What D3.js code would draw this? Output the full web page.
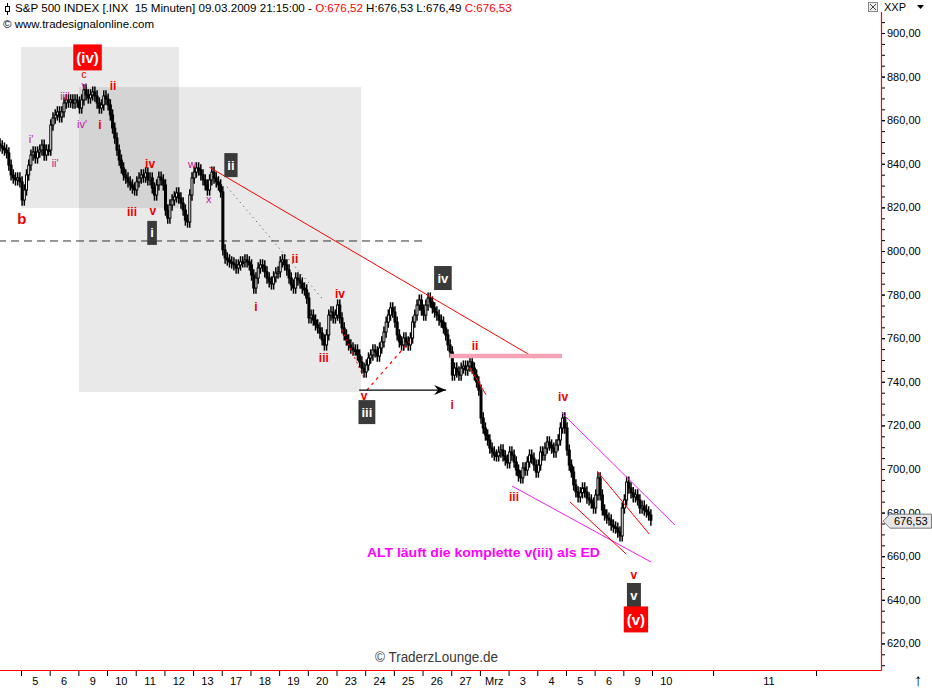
<!DOCTYPE html>
<html><head><meta charset="utf-8">
<script src="https://cdn.jsdelivr.net/npm/d3@7"></script>
<style>
html,body{margin:0;padding:0;background:#fff;}
svg{display:block;}
text{font-family:"Liberation Sans",Arial,sans-serif;}
</style></head><body>
<svg id="chart" width="932" height="688"></svg>
<script>
// ---------- DATA ----------
const dayLabels = ["5","6","9","10","11","12","13","17","18","19","20","23","24","25","26","27","Mrz","3","4","5","6","9"];
const futureLabels = [["10",22.5],["11",26.08]];
const futureTicks = [24.13, 27.72];
const yMajorTicks = [620,640,660,680,700,720,740,760,780,800,820,840,860,880,900];

// 30-minute closes per trading day (13 per day)
const feb04 = [850.9,850.0,849.1,848.2,847.2,846.3,845.0,839.4,834.9,833.5,832.6,833.5,831.7];
const feb05 = [823.4,828.0,834.9,839.4,844.0,845.4,842.7,845.4,846.3,848.6,844.0,846.3,846.3];
const feb06 = [857.8,861.0,862.4,863.8,861.5,863.8,867.9,869.3,868.3,869.3,867.9,869.3,868.3];
const feb09 = [865.6,869.3,873.9,871.6,870.2,871.6,872.9,871.1,867.9,865.6,867.0,871.1,869.7];
const feb10 = [867.0,862.4,856.4,851.8,846.3,841.7,838.1,834.9,833.5,831.7,830.3,828.9,828.0];
const feb11 = [831.7,833.5,834.9,833.9,835.8,832.6,833.5,828.9,825.7,830.3,833.9,832.6,830.3];
const feb12 = [818.8,815.1,821.1,823.4,824.8,826.6,824.3,822.0,818.8,814.2,813.3,825.7,833.5];
const feb13 = [836.2,838.1,837.2,834.9,832.6,830.3,828.0,832.6,836.2,833.5,831.7,830.3,827.1];
const feb17 = [800.5,796.8,795.9,795.0,794.5,793.6,792.2,793.6,795.0,795.0,795.9,795.0,793.6];
const feb18 = [789.0,783.0,787.6,792.2,793.6,793.1,790.4,787.6,785.8,784.9,788.1,789.9,790.4];
const feb19 = [795.0,795.9,793.6,791.3,787.6,784.4,783.0,787.6,786.7,785.3,783.0,782.1,778.4];
const feb20 = [769.3,770.6,768.3,766.1,764.7,762.4,759.2,756.9,761.5,770.6,772.0,769.3,770.6];
const feb23 = [775.2,769.3,764.7,761.5,759.2,756.9,755.5,754.6,754.6,752.3,749.1,746.3,744.5];
const feb24 = [747.7,750.9,752.3,754.6,753.7,751.8,755.5,758.3,762.8,767.4,770.6,773.9,772.0];
const feb25 = [767.4,761.5,758.3,756.9,760.1,758.3,756.9,760.1,767.4,770.6,775.2,777.5,772.9];
const feb26 = [770.6,775.2,778.4,776.6,773.9,772.0,770.6,768.3,767.4,764.7,761.5,756.9,753.7];
const feb27 = [743.1,746.3,744.5,743.1,746.3,747.2,745.4,747.2,749.1,746.3,743.1,739.9,736.2];
const mar02 = [723.4,718.8,715.6,713.3,709.6,707.8,706.4,706.0,707.8,708.7,706.0,704.1,702.8];
const mar03 = [707.8,706.4,703.2,699.5,696.8,695.9,700.5,699.5,703.2,706.4,705.0,701.8,698.6];
const mar04 = [701.8,707.8,706.4,709.6,712.4,711.0,709.6,707.8,711.0,713.3,718.8,723.4,718.8];
const mar05 = [708.7,701.8,698.6,692.7,689.5,687.2,689.1,691.3,689.5,686.7,685.8,684.4,682.1];
const mar06 = [688.1,695.9,688.1,681.2,678.9,677.5,676.6,674.3,673.4,672.9,671.1,669.3,682.1];
const mar09 = [685.8,694.0,691.3,689.1,687.2,688.1,685.8,682.1,683.0,681.2,680.3,678.9,676.53];
const days = [feb04,feb05,feb06,feb09,feb10,feb11,feb12,feb13,feb17,feb18,feb19,feb20,feb23,feb24,feb25,feb26,feb27,mar02,mar03,mar04,mar05,mar06,mar09];
const firstDayIndex = -1;
const lastPrice = 676.53;

// annotation geometry in (day, price) coordinates
const redTrend = [[6.56,838.5],[17.92,750.9]];
const pinkLevel = [[14.96,751.8],[18.86,751.8]];
const blackArrow = [[11.79,736.2],[14.82,736.2]];
const dashedLevel = [[-0.8,804.6],[14.09,804.6]];
const redDashUp = [[12.06,736.2],[13.56,758.7]];
const redDotDown = [[11.19,763.8],[11.99,740.8]];
const grayDotted = [[7.18,829.4],[10.49,778.4]];
const redShort = [[15.66,746.3],[16.21,734.1]];
const magUpper = [[18.86,725.7],[22.80,674.3]];
const magLower = [[17.12,692.2],[21.97,657.3]];
const redInner1 = [[20.08,699.1],[21.90,670.2]];
const redInner2 = [[19.14,684.9],[21.10,661.0]];
const boxA = [[0,893.6],[5.51,819.7]];
const boxB = [[2.02,875.2],[11.86,735.3]];

const waveLabels = [
 ["(iv)",2.32,888.8,"redbox"],["c",2.2,881.3,"red"],["v",2.2,875.9,"mag"],
 ["ii",3.21,875.7,"redb"],["iii'",1.53,871.1,"mag"],["iv'",2.13,858.3,"mag"],
 ["i",2.75,857.8,"redb"],["i'",0.35,851.4,"mag"],["ii'",1.19,840.4,"mag"],
 ["b",0.03,815.1,"redbig"],["iv",4.5,839.9,"redb"],["iii",3.87,817.9,"redb"],
 ["v",4.6,818.3,"redb"],["w",5.96,839.9,"mag"],["x",6.55,823.9,"mag"],
 ["ii",7.32,839.4,"dark"],["i",4.57,808.3,"dark"],["i",8.19,774.3,"redb"],
 ["ii",9.55,796.3,"redb"],["iii",10.56,750.9,"redb"],["iv",11.12,780.3,"redb"],
 ["v",11.96,733.5,"redb"],["iii",12.06,726.1,"dark"],["iv",14.71,787.6,"dark"],
 ["ii",15.83,756.4,"redb"],["i",15.03,729.4,"redb"],["iv",18.9,733.0,"redb"],
 ["iii",17.19,687.2,"redb"],["v",21.37,651.4,"redb"],["v",21.37,642.2,"dark"],
 ["(v)",21.44,631.0,"redbox"]
];
const noteText = "ALT läuft die komplette v(iii) als ED";
const notePos = [12.06, 661.5];

// ---------- CHART ----------
const svg = d3.select("#chart");
const plot = {left:0, right:881, top:13, bottom:670};
const x = d3.scaleLinear().domain([0,22]).range([21,652]);
const y = d3.scaleLinear().domain([620,900]).range([643.4,33]);
const P = d => [x(d[0]), y(d[1])];

svg.append("defs").append("clipPath").attr("id","clip")
  .append("rect").attr("x",plot.left).attr("y",plot.top)
  .attr("width",plot.right-plot.left).attr("height",plot.bottom-plot.top);
svg.select("defs").append("marker").attr("id","arr")
  .attr("viewBox","0 0 12 10").attr("refX",12).attr("refY",5)
  .attr("markerWidth",12).attr("markerHeight",10).attr("markerUnits","userSpaceOnUse")
  .attr("orient","auto")
  .append("path").attr("d","M0,0 L12,5 L0,10 L4,5 Z").attr("fill","#000");

const g = svg.append("g").attr("clip-path","url(#clip)");

// shaded boxes
[boxA, boxB].forEach(b => {
  const [x0,y0] = P(b[0]), [x1,y1] = P(b[1]);
  g.append("rect").attr("x",x0).attr("y",y0).attr("width",x1-x0).attr("height",y1-y0)
    .attr("fill","#000").attr("fill-opacity",0.088);
});

const line = d3.line().x(d=>x(d[0])).y(d=>y(d[1]));
g.append("path").attr("d",line(dashedLevel)).attr("stroke","#333").attr("stroke-width",1)
  .attr("stroke-dasharray","8,5").attr("fill","none");

// candles
const bars = [];
let prev = days[0][0];
days.forEach((arr, i) => {
  const d = firstDayIndex + i;
  arr.forEach((c, b) => {
    const o = prev;
    bars.push({t: d + (b+0.5)/arr.length, o, c, h: Math.max(o,c)+2.6, l: Math.min(o,c)-2.6});
    prev = c;
  });
});
const bw = 2.0;
const cg = g.append("g");
cg.selectAll("line.w").data(bars).join("line").attr("class","w")
  .attr("x1",d=>x(d.t)).attr("x2",d=>x(d.t))
  .attr("y1",d=>y(d.h)).attr("y2",d=>y(d.l))
  .attr("stroke","#000").attr("stroke-width",1.5);
cg.selectAll("rect.b").data(bars).join("rect").attr("class","b")
  .attr("x",d=>x(d.t)-bw/2).attr("width",bw)
  .attr("y",d=>y(Math.max(d.o,d.c)))
  .attr("height",d=>Math.max(1.5,Math.abs(y(d.o)-y(d.c))))
  .attr("fill",d=>d.c>d.o?"#fff":"#000")
  .attr("stroke","#000").attr("stroke-width",1);

// annotation lines
function seg(pts, color, w, dash){
  const p = g.append("path").attr("d",line(pts)).attr("stroke",color)
    .attr("stroke-width",w).attr("fill","none");
  if (dash) p.attr("stroke-dasharray",dash);
  return p;
}
seg(grayDotted,"#444",1,"1,4");
seg(redTrend,"#ff0000",1);
seg(pinkLevel,"#f3a3b3",4.5);
seg(redDashUp,"#ff0000",1.2,"3,4");
seg(redDotDown,"#ff0000",1,"2,3");
seg(redShort,"#ff0000",1);
seg(magUpper,"#ee22ee",1);
seg(magLower,"#ee22ee",1);
seg(redInner1,"#ff0000",1);
seg(redInner2,"#ff0000",1);
seg(blackArrow,"#000",1.3).attr("marker-end","url(#arr)");

// wave labels
const lg = svg.append("g");
waveLabels.forEach(([t,d,p,s]) => {
  const cx = x(d), cy = y(p);
  if (s === "dark" || s === "redbox") {
    const fs = s==="dark" ? 13 : 15;
    const tx = lg.append("text").attr("x",cx).attr("y",cy).attr("text-anchor","middle")
      .attr("dominant-baseline","central").attr("fill","#fff")
      .attr("font-weight","bold").attr("font-size",fs).text(t);
    const bb = tx.node().getBBox();
    const h = s==="dark" ? 24 : 26;
    lg.insert("rect","text").attr("x",cx-bb.width/2-3).attr("y",cy-h/2)
      .attr("width",bb.width+6).attr("height",h)
      .attr("fill", s==="dark" ? "#3a3a3a" : "#ff0000");
    tx.raise();
  } else {
    const st = {red:["#ee0000","normal",11],redb:["#ee0000","bold",12],
                redbig:["#ee0000","bold",15],mag:["#c0169a","normal",11]}[s];
    lg.append("text").attr("x",cx).attr("y",cy).attr("text-anchor","middle")
      .attr("dominant-baseline","central").attr("fill",st[0])
      .attr("font-weight",st[1]).attr("font-size",t==="v"&&s==="mag"?10:st[2]).text(t);
  }
});

// note
svg.append("text").attr("x",x(notePos[0])).attr("y",y(notePos[1]))
  .attr("dominant-baseline","central").attr("fill","#ff00ff")
  .attr("font-family","'DejaVu Sans',sans-serif").attr("font-weight","bold")
  .attr("font-size",12).attr("textLength",233).attr("lengthAdjust","spacingAndGlyphs")
  .text(noteText);

// watermark
svg.append("text").attr("x",375).attr("y",657).attr("dominant-baseline","central")
  .attr("fill","#3a3a3a").attr("font-size",14).attr("textLength",123)
  .attr("lengthAdjust","spacingAndGlyphs").text("© TraderzLounge.de");

// frame lines
svg.append("line").attr("x1",plot.right+0.5).attr("x2",plot.right+0.5)
  .attr("y1",12).attr("y2",plot.bottom+0.5).attr("stroke","#ff0000").attr("stroke-width",1.2);
svg.append("line").attr("x1",0).attr("x2",plot.right+0.5)
  .attr("y1",plot.bottom+0.5).attr("y2",plot.bottom+0.5).attr("stroke","#ff0000").attr("stroke-width",1.2);

// y axis
const fmt = v => v.toFixed(2).replace(".",",");
const yMinor = svg.append("g").attr("transform",`translate(${plot.right+1},0)`)
  .call(d3.axisRight(y).tickValues(d3.range(610,906,5)).tickSize(3).tickFormat(""));
const yMajor = svg.append("g").attr("transform",`translate(${plot.right+1},0)`)
  .call(d3.axisRight(y).tickValues(yMajorTicks).tickSize(3).tickPadding(2).tickFormat(fmt));
[yMinor,yMajor].forEach(a => { a.select(".domain").remove(); a.selectAll("line").attr("stroke","#000"); });
yMajor.selectAll("text").attr("font-size",11).attr("fill","#000")
  .attr("font-family","'Liberation Sans',Arial,sans-serif");

// current price tag
const ty = y(lastPrice) + 1;
svg.append("path").attr("d",`M${plot.right+2},${ty} L${plot.right+9},${ty-7} L931.5,${ty-7} L931.5,${ty+7} L${plot.right+9},${ty+7} Z`)
  .attr("fill","#e6e6e6").attr("stroke","#7a7a7a");
svg.append("text").attr("x",894).attr("y",ty).attr("dominant-baseline","central")
  .attr("font-size",11).attr("fill","#000").text(fmt(lastPrice));

// x axis
const xTicks = svg.append("g").attr("transform",`translate(0,${plot.bottom+1})`)
  .call(d3.axisBottom(x).tickValues(d3.range(0,23).concat(futureTicks)).tickSize(5).tickFormat(""));
xTicks.select(".domain").remove();
xTicks.selectAll("line").attr("stroke","#000");
const xLab = dayLabels.map((l,i)=>[l,i+0.5]).concat(futureLabels);
svg.append("g").selectAll("text").data(xLab).join("text")
  .attr("x",d=>x(d[1])).attr("y",681).attr("text-anchor","middle")
  .attr("dominant-baseline","central").attr("font-size",11).attr("fill","#000")
  .text(d=>d[0]);
svg.append("text").attr("x",918).attr("y",680).attr("text-anchor","middle")
  .attr("dominant-baseline","central").attr("font-size",17).text("↑");

// header
const icon = svg.append("g").attr("stroke","#000").attr("fill","none");
icon.append("line").attr("x1",7.5).attr("x2",7.5).attr("y1",3).attr("y2",15);
icon.append("rect").attr("x",5.5).attr("y",6.5).attr("width",4).attr("height",5).attr("fill","#fff");
const hdr = svg.append("text").attr("x",15).attr("y",12).attr("font-size",11.6)
  .attr("xml:space","preserve").attr("fill","#000");
hdr.append("tspan").text("S&P 500 INDEX [.INX  15 Minuten] 09.03.2009 21:15:00 - ");
hdr.append("tspan").attr("fill","#ff0000").text("O:676,52");
hdr.append("tspan").text(" H:676,53 L:676,49 ");
hdr.append("tspan").attr("fill","#ff0000").text("C:676,53");
svg.append("text").attr("x",3).attr("y",28).attr("font-size",11.5).attr("fill","#000")
  .text("© www.tradesignalonline.com");

// top-right controls
svg.append("rect").attr("x",868.5).attr("y",2.5).attr("width",9).attr("height",9)
  .attr("fill","#eee").attr("stroke","#888");
svg.append("path").attr("d","M870,4 L876,10 M876,4 L870,10").attr("stroke","#444");
svg.append("text").attr("x",884).attr("y",11).attr("font-size",11).text("XXP");
svg.append("path").attr("d","M917,5 L924,5 L920.5,9 Z").attr("fill","#000");
</script>
</body></html>
